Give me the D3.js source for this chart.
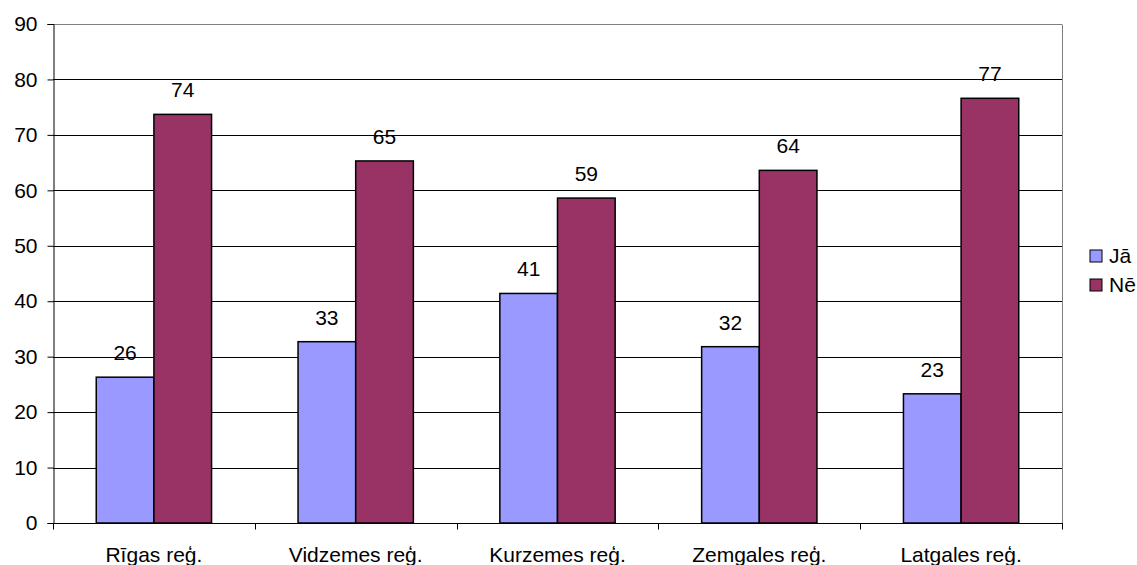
<!DOCTYPE html>
<html>
<head>
<meta charset="utf-8">
<script src="https://cdn.jsdelivr.net/npm/d3@7"></script>
<style>
  body { margin: 0; background: #fff; }
  svg { display: block; font-family: "Liberation Sans", Arial, sans-serif; }
</style>
</head>
<body>
<svg id="chart" width="1137" height="565"></svg>
<script>
const CATEGORIES = ['Rīgas reģ.', 'Vidzemes reģ.', 'Kurzemes reģ.', 'Zemgales reģ.', 'Latgales reģ.'];
const SERIES = ['Jā', 'Nē'];
const JA = [26.3, 32.7, 41.4, 31.8, 23.3];
const NE = [73.7, 65.3, 58.6, 63.6, 76.6];
const Y_TICKS = [0, 10, 20, 30, 40, 50, 60, 70, 80, 90];
const COLORS = ['#9999ff', '#993366'];
const FS = 21;

const svg = d3.select('#chart');
const plotLeft = 53, plotRight = 1062, plotTop = 24, plotBottom = 523;

const x0 = d3.scaleBand().domain(CATEGORIES).range([plotLeft, plotRight]).padding(0);
// Excel-style gap width 150%: two bars per band, 0.75 bar of gap on each side
const x1 = d3.scaleBand().domain(SERIES).range([0, x0.bandwidth()]).paddingInner(0).paddingOuter(0.75);
const y = d3.scaleLinear().domain([0, 90]).range([plotBottom, plotTop]);

const rows = CATEGORIES.map((c, i) => ({ cat: c, vals: [JA[i], NE[i]] }));

// gridlines
svg.append('g')
  .selectAll('line')
  .data(Y_TICKS.filter((t) => t > 0))
  .enter()
  .append('line')
  .attr('x1', plotLeft).attr('x2', plotRight)
  .attr('y1', (d) => Math.round(y(d)) + 0.5).attr('y2', (d) => Math.round(y(d)) + 0.5)
  .attr('stroke', (d) => (d === 90 ? '#808080' : '#000'))
  .attr('stroke-width', 1);

// right border of plot area
svg.append('line')
  .attr('x1', plotRight + 0.5).attr('x2', plotRight + 0.5)
  .attr('y1', Math.round(y(90)) + 0.5).attr('y2', plotBottom)
  .attr('stroke', '#808080');

// y axis
const yAxis = d3.axisLeft(y).tickValues(Y_TICKS).tickSize(6).tickPadding(10);
const yg = svg.append('g').attr('transform', `translate(${plotLeft + 0.5},0)`).call(yAxis);
yg.select('.domain').attr('stroke', '#000');
yg.selectAll('.tick line').attr('stroke', '#000');
yg.selectAll('text').attr('font-size', FS).attr('font-family', 'Liberation Sans, Arial, sans-serif').attr('fill', '#000');

// x axis: ticks at band boundaries
const xg = svg.append('g').attr('transform', `translate(0,${Math.round(plotBottom) + 0.5})`);
xg.append('line').attr('x1', plotLeft).attr('x2', plotRight + 1).attr('stroke', '#000');
const bounds = CATEGORIES.map((c) => x0(c)).concat([plotRight]);
xg.selectAll('line.tick')
  .data(bounds)
  .enter()
  .append('line')
  .attr('class', 'tick')
  .attr('x1', (d) => Math.round(d) + 0.5).attr('x2', (d) => Math.round(d) + 0.5)
  .attr('y1', 0).attr('y2', 6)
  .attr('stroke', '#000');
xg.selectAll('text')
  .data(CATEGORIES)
  .enter()
  .append('text')
  .attr('x', (d) => x0(d) + x0.bandwidth() / 2)
  .attr('y', 38)
  .attr('text-anchor', 'middle')
  .attr('font-size', FS)
  .attr('fill', '#000')
  .text((d) => d);

// bars
const groups = svg.append('g')
  .selectAll('g')
  .data(rows)
  .enter()
  .append('g')
  .attr('transform', (d) => `translate(${x0(d.cat)},0)`);

groups.selectAll('rect')
  .data((d) => d.vals.map((v, i) => ({ s: SERIES[i], v, i })))
  .enter()
  .append('rect')
  .attr('x', (d) => x1(d.s))
  .attr('y', (d) => y(d.v))
  .attr('width', x1.bandwidth())
  .attr('height', (d) => y(0) - y(d.v))
  .attr('fill', (d) => COLORS[d.i])
  .attr('stroke', '#000')
  .attr('stroke-width', 1.5);

groups.selectAll('text')
  .data((d) => d.vals.map((v, i) => ({ s: SERIES[i], v, i })))
  .enter()
  .append('text')
  .attr('x', (d) => x1(d.s) + x1.bandwidth() / 2)
  .attr('y', (d) => y(d.v) - 17)
  .attr('text-anchor', 'middle')
  .attr('font-size', FS)
  .attr('fill', '#000')
  .text((d) => Math.round(d.v));

// legend
const legend = svg.append('g').attr('transform', 'translate(1090,250)');
const li = legend.selectAll('g')
  .data(SERIES)
  .enter()
  .append('g')
  .attr('transform', (d, i) => `translate(0,${i * 29})`);
li.append('rect')
  .attr('width', 12).attr('height', 12)
  .attr('fill', (d, i) => COLORS[i])
  .attr('stroke', '#000')
  .attr('stroke-width', 1);
li.append('text')
  .attr('x', 19).attr('y', 6)
  .attr('dy', '0.35em')
  .attr('font-size', FS)
  .attr('fill', '#000')
  .text((d) => d);
</script>
</body>
</html>
